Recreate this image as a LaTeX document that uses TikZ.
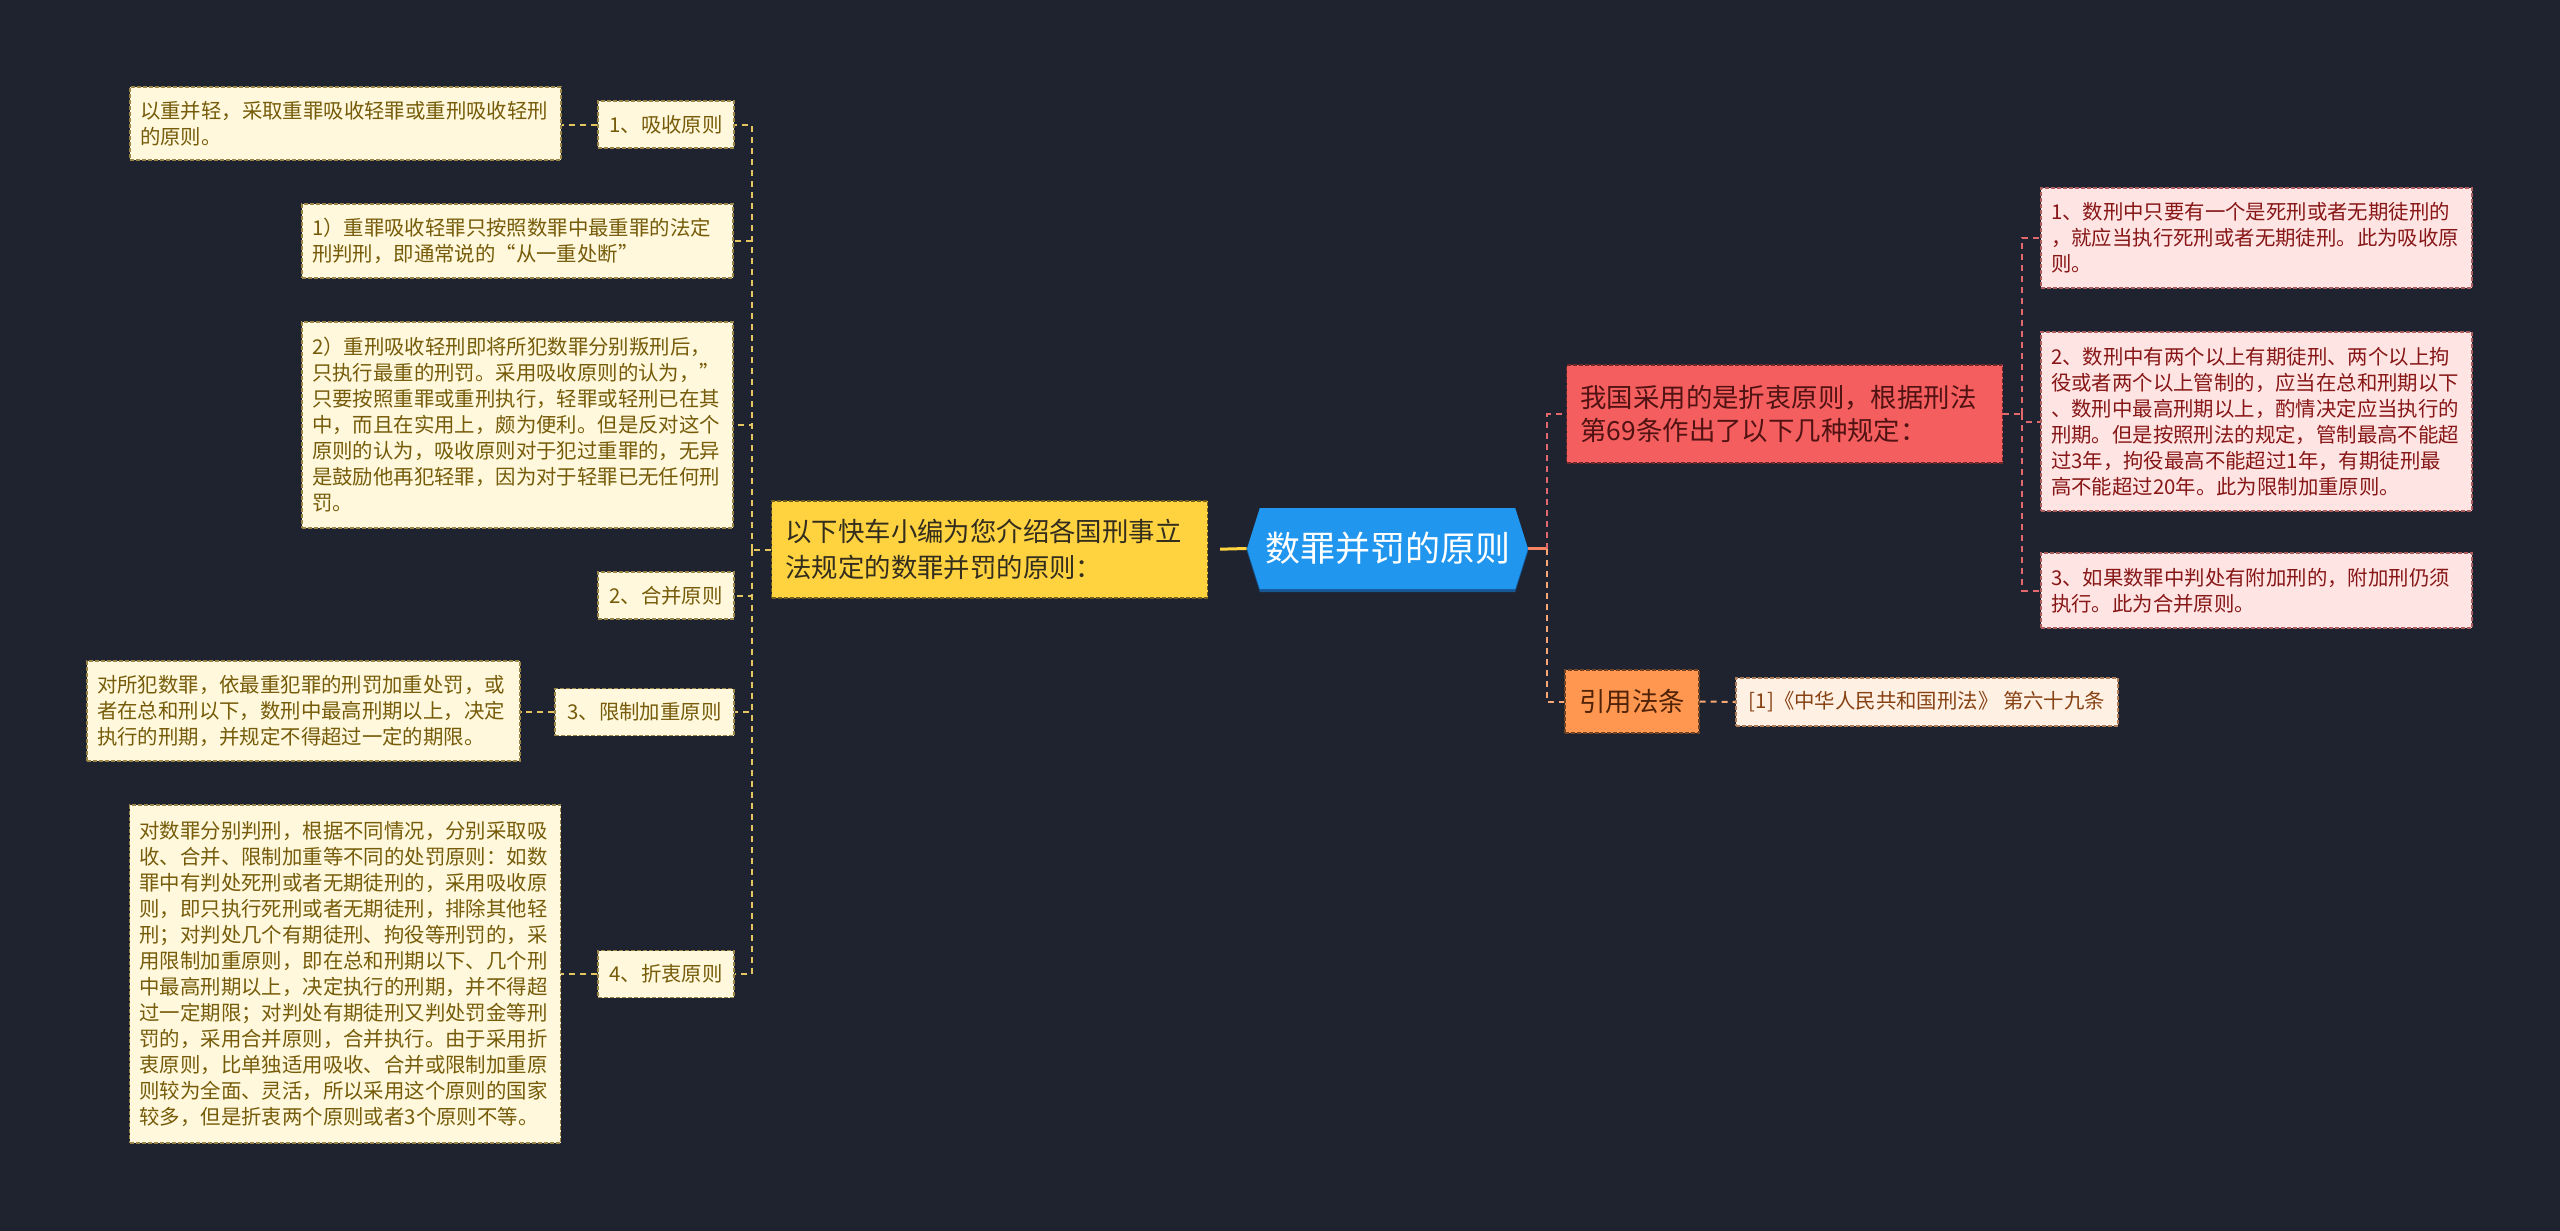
\documentclass[tikz,border=0pt]{standalone}
\usepackage{fontspec}
\setmainfont{Noto Sans CJK SC}
\usetikzlibrary{calc,positioning,shapes.symbols,shadows}
\definecolor{bgdark}{RGB}{31,35,48}
\definecolor{leafbg}{RGB}{255,248,220}
\definecolor{leaftext}{RGB}{118,92,10}
\definecolor{leafconn}{RGB}{228,198,96}
\definecolor{topicyellow}{RGB}{255,211,64}
\definecolor{yellowtext}{RGB}{51,45,30}
\definecolor{rootblue}{RGB}{32,150,238}
\definecolor{rootshade}{RGB}{22,88,150}
\definecolor{topicred}{RGB}{245,94,94}
\definecolor{redtext}{RGB}{80,18,18}
\definecolor{pinkbg}{RGB}{255,228,228}
\definecolor{pinktext}{RGB}{135,22,22}
\definecolor{redconn}{RGB}{226,104,110}
\definecolor{topicorange}{RGB}{255,151,80}
\definecolor{orangetext}{RGB}{80,34,8}
\definecolor{citebg}{RGB}{255,240,228}
\definecolor{citetext}{RGB}{135,66,20}
\definecolor{orangeconn}{RGB}{248,168,118}
\definecolor{hubconn}{RGB}{244,132,98}
\newcommand{\leaffont}{\fontsize{10.2}{13}\selectfont}
\newcommand{\topicfont}{\fontsize{13.2}{18}\selectfont}
\newcommand{\rootfont}{\fontsize{17.5}{21}\selectfont}
\tikzset{
  mroot/.style={signal, signal to=east and west, signal pointer angle=145,
                fill=rootblue, text=white, font=\rootfont,
                minimum width=140.5pt, minimum height=40.5pt, inner sep=0pt,
                drop shadow={shadow xshift=0pt, shadow yshift=-1.5pt,
                             fill=rootshade, opacity=1}},
  mtopic/.style={dash pattern=on 2pt off 1pt, line width=0.6pt, align=left,
                 inner xsep=7pt, inner ysep=0pt, font=\topicfont},
  myellow/.style={mtopic, draw=topicyellow!45!black, fill=topicyellow,
                  text=yellowtext, text width=204pt, minimum height=48.5pt},
  mred/.style   ={mtopic, draw=topicred!45!black, fill=topicred, text=redtext,
                  text width=204pt, minimum height=49pt,
                  font=\fontsize{13.2}{16.5}\selectfont},
  morange/.style={mtopic, draw=topicorange!45!black, fill=topicorange,
                  text=orangetext, align=center, minimum width=67pt,
                  minimum height=31.5pt},
  mleaf/.style  ={draw=leaftext!75, fill=leafbg, text=leaftext,
                  dash pattern=on 2pt off 1pt, line width=0.6pt,
                  font=\leaffont, inner xsep=5pt, inner ysep=0pt, align=left},
  mleafw/.style ={mleaf, text width=205.5pt},
  mlabel/.style ={mleaf, align=center, minimum width=68pt, minimum height=23.5pt},
  mpink/.style  ={mleafw, draw=pinktext!70, fill=pinkbg, text=pinktext},
  mcite/.style  ={mleaf, draw=citetext!70, fill=citebg, text=citetext,
                  align=center, minimum width=191pt, minimum height=24pt},
  mlline/.style ={leafconn, line width=1pt, dash pattern=on 3pt off 2.5pt},
  mrline/.style ={redconn, line width=1pt, dash pattern=on 3pt off 2.5pt},
  moline/.style ={orangeconn, line width=1pt, dash pattern=on 3pt off 2.5pt},
  myline/.style ={topicyellow, line width=1.5pt},
  mhline/.style ={hubconn, line width=1.5pt},
}
\begin{document}
\begin{tikzpicture}[x=0.5pt, y=-0.5pt]
  \useasboundingbox (0,0) rectangle (2560,1231);
  \fill[bgdark] (0,0) rectangle (2560,1231);

  % centre and first level
  \node[mroot] (hex) at (1387.5,548.5) {数罪并罚的原则};
  \node[myellow] (y0) at (989.5,549.5) {以下快车小编为您介绍各国刑事立\\法规定的数罪并罚的原则：};
  \node[mred] (r0) at (1784.5,414) {我国采用的是折衷原则，根据刑法\\第69条作出了以下几种规定：};
  \node[morange] (o0) at (1632,701.5) {引用法条};

  % left branch
  \node[mlabel] (n1) at (666,124.5) {1、吸收原则};
  \node[mleafw, minimum height=36.5pt] (a1) at (345.5,123.5)
    {以重并轻，采取重罪吸收轻罪或重刑吸收轻刑\\的原则。};
  \node[mleafw, minimum height=37pt] (b1) at (517.5,241)
    {1）重罪吸收轻罪只按照数罪中最重罪的法定\\刑判刑，即通常说的“从一重处断”};
  \node[mleafw, minimum height=103pt] (b2) at (517.5,425)
    {2）重刑吸收轻刑即将所犯数罪分别叛刑后，\\只执行最重的刑罚。采用吸收原则的认为，”\\只要按照重罪或重刑执行，轻罪或轻刑已在其\\中，而且在实用上，颇为便利。但是反对这个\\原则的认为，吸收原则对于犯过重罪的，无异\\是鼓励他再犯轻罪，因为对于轻罪已无任何刑\\罚。};
  \node[mlabel] (n2) at (666,595.5) {2、合并原则};
  \node[mlabel, minimum width=89.5pt] (n3) at (644.5,712) {3、限制加重原则};
  \node[mleaf, text width=206.5pt, minimum height=50pt] (a3) at (303.5,711)
    {对所犯数罪，依最重犯罪的刑罚加重处罚，或\\者在总和刑以下，数刑中最高刑期以上，决定\\执行的刑期，并规定不得超过一定的期限。};
  \node[mlabel] (n4) at (666,974) {4、折衷原则};
  \node[mleafw, minimum height=169pt] (a4) at (345,974)
    {对数罪分别判刑，根据不同情况，分别采取吸\\收、合并、限制加重等不同的处罚原则：如数\\罪中有判处死刑或者无期徒刑的，采用吸收原\\则，即只执行死刑或者无期徒刑，排除其他轻\\刑；对判处几个有期徒刑、拘役等刑罚的，采\\用限制加重原则，即在总和刑期以下、几个刑\\中最高刑期以上，决定执行的刑期，并不得超\\过一定期限；对判处有期徒刑又判处罚金等刑\\罚的，采用合并原则，合并执行。由于采用折\\衷原则，比单独适用吸收、合并或限制加重原\\则较为全面、灵活，所以采用这个原则的国家\\较多，但是折衷两个原则或者3个原则不等。};

  % right branch
  \node[mpink, minimum height=50pt] (p1) at (2256.5,238)
    {1、数刑中只要有一个是死刑或者无期徒刑的\\，就应当执行死刑或者无期徒刑。此为吸收原\\则。};
  \node[mpink, minimum height=89.5pt] (p2) at (2256.5,421.5)
    {2、数刑中有两个以上有期徒刑、两个以上拘\\役或者两个以上管制的，应当在总和刑期以下\\、数刑中最高刑期以上，酌情决定应当执行的\\刑期。但是按照刑法的规定，管制最高不能超\\过3年，拘役最高不能超过1年，有期徒刑最\\高不能超过20年。此为限制加重原则。};
  \node[mpink, minimum height=37.5pt] (p3) at (2256.5,590.5)
    {3、如果数罪中判处有附加刑的，附加刑仍须\\执行。此为合并原则。};
  \node[mcite] (c0) at (1927,702) {[1]《中华人民共和国刑法》 第六十九条};

  % connectors
  \draw[myline, shorten <=6pt] (y0.east) -- (hex.west);
  \path (y0.west) ++(-19,0) coordinate (hubL);
  \draw[mlline] (y0.west) -- (hubL);
  \foreach \c in {n1,b1,b2,n2,n3,n4} {
    \draw[mlline] (hubL) |- (\c.east);
  }
  \draw[mlline] (n1.west) -- (n1.west -| a1.east);
  \draw[mlline] (n3.west) -- (n3.west -| a3.east);
  \draw[mlline] (n4.west) -- (n4.west -| a4.east);

  \path (hex.east) ++(19,0) coordinate (hubR);
  \draw[mhline] (hex.east) -- (hubR);
  \draw[mrline] (hubR) |- (r0.west);
  \draw[moline] (hubR) |- (o0.west);
  \path (r0.east) ++(19,0) coordinate (hubP);
  \draw[mrline] (r0.east) -- (hubP);
  \foreach \c in {p1,p2,p3} {
    \draw[mrline] (hubP) |- (\c.west);
  }
  \draw[moline] (o0.east) -- (c0.west);
\end{tikzpicture}
\end{document}
